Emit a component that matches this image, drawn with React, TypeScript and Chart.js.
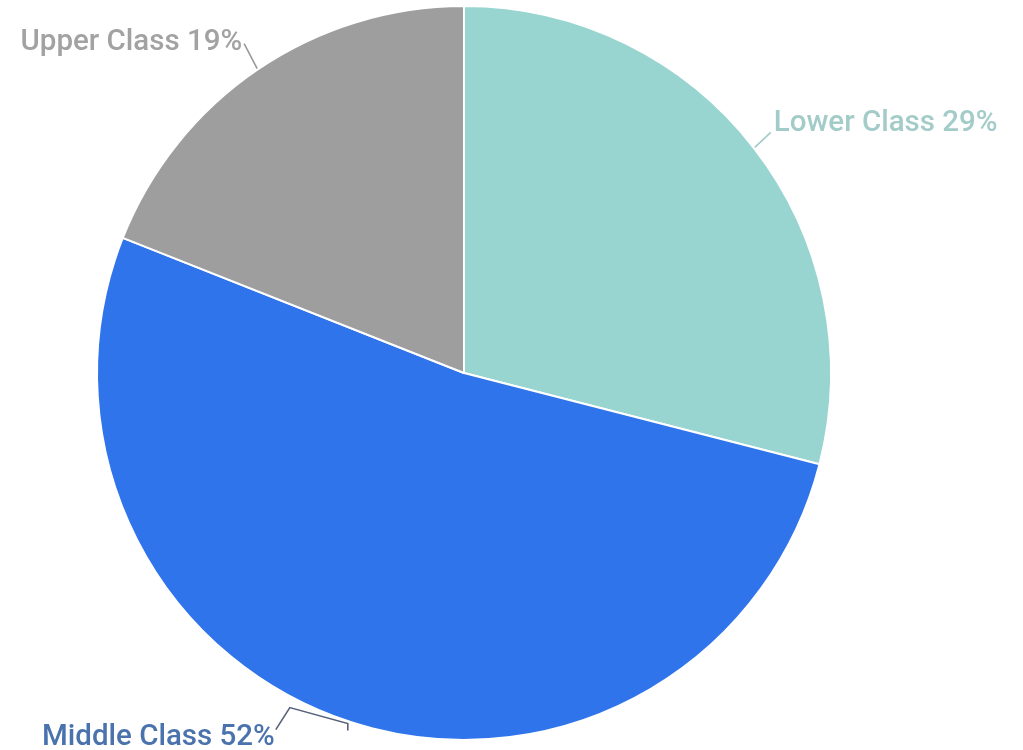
import React, { useEffect, useRef } from "react";
import { Chart, registerables } from "chart.js";

Chart.register(...registerables);

const categories = ["Lower Class", "Middle Class", "Upper Class"];
const shares = [29, 52, 19];
const sliceColors = ["#98D5D0", "#3074EC", "#9E9E9E"];
const labelColors = ["#A3CBC8", "#4A72AD", "#A2A2A2"];
const leaderColors = ["#A3CBC8", "#56627A", "#9A9A9A"];

const labelPlugin = {
  id: "pieLabels",
  afterDatasetsDraw(chart: any) {
    const ctx = chart.ctx;
    const meta = chart.getDatasetMeta(0);
    ctx.save();
    ctx.font = "500 29.5px Roboto";
    ctx.lineWidth = 1.6;
    meta.data.forEach((arc: any, i: number) => {
      const p = arc.getProps(["x", "y", "startAngle", "endAngle", "outerRadius"], true);
      const mid = (p.startAngle + p.endAngle) / 2;
      const text = `${categories[i]} ${shares[i]}%`;
      ctx.strokeStyle = leaderColors[i];
      ctx.fillStyle = labelColors[i];
      ctx.textBaseline = "alphabetic";
      if (i === 1) {
        const R = p.outerRadius + 9;
        const x0 = p.x + Math.cos(mid) * R;
        const y0 = p.y + Math.sin(mid) * R;
        ctx.beginPath();
        ctx.moveTo(x0, y0);
        ctx.lineTo(x0, y0 - 7);
        ctx.lineTo(x0 - 58, y0 - 23);
        ctx.lineTo(x0 - 72, y0 - 1);
        ctx.stroke();
        ctx.textAlign = "right";
        ctx.fillText(text, x0 - 73, y0 + 14);
      } else {
        const R = p.outerRadius + 1;
        const x0 = p.x + Math.cos(mid) * R;
        const y0 = p.y + Math.sin(mid) * R;
        const right = Math.cos(mid) > 0;
        const ex = right ? x0 + 16 : x0 - 13;
        const ey = right ? y0 - 15 : y0 - 25;
        ctx.beginPath();
        ctx.moveTo(x0, y0);
        ctx.lineTo(ex, ey);
        ctx.stroke();
        if (right) {
          ctx.textAlign = "left";
          ctx.fillText(text, x0 + 19, y0 - 16);
        } else {
          ctx.textAlign = "right";
          ctx.fillText(text, x0 - 15, y0 - 19);
        }
      }
    });
    ctx.restore();
  },
};

export default function App() {
  const ref = useRef<HTMLCanvasElement>(null);
  useEffect(() => {
    if (!ref.current) return;
    const chart = new Chart(ref.current, {
      type: "pie",
      data: {
        labels: categories,
        datasets: [
          {
            data: shares,
            backgroundColor: sliceColors,
            borderColor: "#FFFFFF",
            borderWidth: 2,
          },
        ],
      },
      options: {
        responsive: false,
        animation: false,
        layout: { padding: { left: 96, right: 191, top: 5, bottom: 9 } },
        plugins: {
          legend: { display: false },
          tooltip: { enabled: false },
        },
      },
      plugins: [labelPlugin],
    });
    return () => chart.destroy();
  }, []);
  return (
    <div style={{ position: "fixed", left: 0, top: 0, width: 1023, height: 750, background: "#fff" }}>
      <canvas ref={ref} width={1023} height={750} />
    </div>
  );
}
